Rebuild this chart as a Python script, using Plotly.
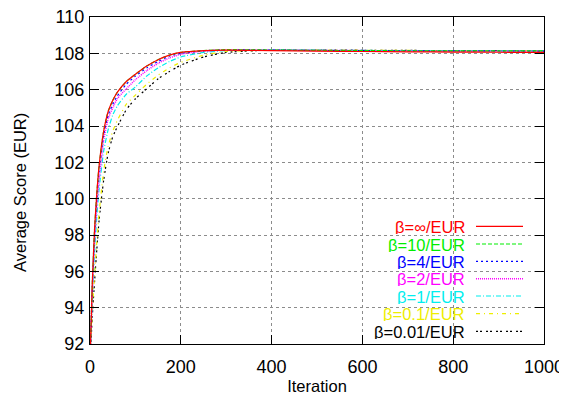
import plotly.graph_objects as go

iterations = [0, 5, 10, 15, 20, 30, 40, 50, 60, 80, 100, 125, 150, 175, 200, 250, 300, 400, 500, 600, 700, 800, 900, 1000]

score_inf = [91.0, 95.3, 98.3, 100.3, 101.8, 103.7, 104.8, 105.4, 105.85, 106.45, 106.85, 107.3, 107.65, 107.9, 108.05, 108.15, 108.18, 108.15, 108.12, 108.1, 108.08, 108.07, 108.06, 108.05]
score_10 = [91.0, 95.3, 98.3, 100.3, 101.8, 103.7, 104.8, 105.4, 105.85, 106.45, 106.85, 107.3, 107.65, 107.9, 108.05, 108.15, 108.2, 108.18, 108.16, 108.15, 108.14, 108.14, 108.13, 108.13]
score_4 = [91.0, 95.1, 98.0, 100.0, 101.5, 103.5, 104.6, 105.2, 105.65, 106.3, 106.75, 107.2, 107.55, 107.85, 108.0, 108.14, 108.19, 108.18, 108.16, 108.15, 108.14, 108.13, 108.13, 108.12]
score_2 = [91.0, 94.8, 97.6, 99.6, 101.0, 103.2, 104.4, 105.0, 105.5, 106.05, 106.55, 107.05, 107.45, 107.75, 107.95, 108.12, 108.18, 108.18, 108.16, 108.15, 108.14, 108.13, 108.13, 108.12]
score_1 = [91.0, 94.5, 97.0, 99.0, 100.5, 102.6, 103.8, 104.6, 105.1, 105.75, 106.15, 106.75, 107.2, 107.55, 107.8, 108.05, 108.15, 108.18, 108.17, 108.16, 108.15, 108.14, 108.14, 108.13]
score_01 = [91.0, 93.8, 95.8, 97.6, 99.2, 101.5, 102.9, 103.7, 104.3, 105.2, 105.7, 106.3, 106.8, 107.2, 107.5, 107.9, 108.1, 108.18, 108.18, 108.17, 108.16, 108.15, 108.15, 108.14]
score_001 = [91.0, 93.5, 95.4, 97.2, 98.8, 101.0, 102.5, 103.4, 103.95, 104.9, 105.5, 106.05, 106.6, 107.0, 107.35, 107.8, 108.05, 108.18, 108.18, 108.17, 108.16, 108.15, 108.15, 108.14]

labels = ["β=∞/EUR", "β=10/EUR", "β=4/EUR", "β=2/EUR", "β=1/EUR", "β=0.1/EUR", "β=0.01/EUR"]
series = [score_inf, score_10, score_4, score_2, score_1, score_01, score_001]
colors = ["#ff0000", "#00ee00", "#0000ff", "#ff00ff", "#00eeee", "#eeee00", "#000000"]
dashes = ["solid", "4px,2px", "2px,3px", "1px,1px", "5px,2px,1px,2px", "4px,4px,1px,4px", "2px,2px,2px,4px"]
widths = [1.2, 1.2, 1.2, 1.5, 1.2, 1.2, 1.2]

FONT = "Liberation Sans, Arial, sans-serif"

# the page body has an 8px margin, so the figure is offset by 8px in the window
OFF = 8
top, bottom = 17, 344      # window pixels of plot area
left, right = 90, 544
H = bottom - top
W = right - left

fig = go.Figure()
for lab, ys, c, d, w in reversed(list(zip(labels, series, colors, dashes, widths))):
    fig.add_trace(go.Scatter(x=iterations, y=ys, mode="lines", name=lab,
                             line=dict(color=c, dash=d, width=w, shape="spline", smoothing=0.5),
                             showlegend=False))

fig.add_shape(type="rect", xref="paper", yref="paper", x0=0.551, x1=1.0, y0=0.0, y1=0.388,
              fillcolor="white", line=dict(width=0), layer="between")

row_px = [226.3, 244.0, 261.3, 278.7, 296.0, 313.7, 331.3]
for lab, c, d, w, yp in zip(labels, colors, dashes, widths, row_px):
    yy = (bottom - yp) / H
    fig.add_annotation(xref="paper", yref="paper", x=(466 - left) / W, y=yy, text=lab,
                       showarrow=False, xanchor="right", yanchor="middle", height=15,
                       borderpad=0, font=dict(family=FONT, size=16.5, color=c))
    fig.add_shape(type="line", xref="paper", yref="paper", x0=(476 - left) / W, x1=(523 - left) / W,
                  y0=yy, y1=yy, line=dict(color=c, dash=d, width=w), layer="above")

fig.add_annotation(xref="paper", yref="paper", x=(20 - left) / W, y=(bottom - 193) / H,
                   text="Average Score (EUR)", textangle=-90, showarrow=False,
                   xanchor="center", yanchor="middle", font=dict(family=FONT, size=16.5, color="black"))

axis_common = dict(showline=True, linecolor="black", linewidth=1.3, mirror="ticks",
                   ticks="inside", ticklen=9, tickcolor="black", tickwidth=1,
                   showgrid=True, gridcolor="#8c8c8c", griddash="dot", gridwidth=1,
                   zeroline=False, automargin=False, ticklabeloverflow="allow",
                   tickfont=dict(family=FONT, size=18, color="black"))

fig.update_xaxes(range=[0, 1000], tickvals=[0, 200, 400, 600, 800, 1000], ticklabelstandoff=6,
                 title=dict(text="Iteration", font=dict(family=FONT, size=16.5, color="black"), standoff=4),
                 **axis_common)
fig.update_yaxes(range=[92, 110], tickvals=[92, 94, 96, 98, 100, 102, 104, 106, 108, 110],
                 ticklabelstandoff=1, **axis_common)

fig.update_layout(width=567, height=399,
                  margin=dict(l=left - OFF, r=567 - (right - OFF), t=top - OFF, b=399 - (bottom - OFF)),
                  paper_bgcolor="white", plot_bgcolor="white", showlegend=False,
                  font=dict(family=FONT, color="black"))

fig.write_html("out.html")
